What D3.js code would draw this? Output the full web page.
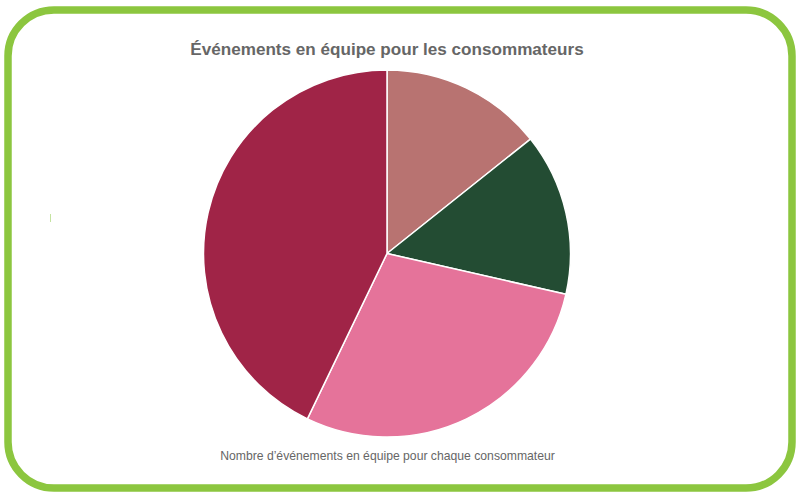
<!DOCTYPE html>
<html><head><meta charset="utf-8">
<script src="https://cdn.jsdelivr.net/npm/d3@7/dist/d3.min.js"></script>
<style>html,body{margin:0;padding:0;background:#fff}</style>
</head><body><svg id="c" width="800" height="500"></svg>
<script>
const categories = ["Consommateur A","Consommateur B","Consommateur C","Consommateur D"];
const values = [1,1,2,3];
const colors = ["#b87371","#234c33","#e5739a","#a02447"];
const title = "Événements en équipe pour les consommateurs";
const caption = "Nombre d’événements en équipe pour chaque consommateur";

const svg = d3.select("#c");
svg.append("rect").attr("x",8).attr("y",10).attr("width",784).attr("height",478)
  .attr("rx",46).attr("ry",46).attr("fill","#fff").attr("stroke","#8cc63f").attr("stroke-width",7.5);

svg.append("line").attr("x1",50.5).attr("x2",50.5).attr("y1",214).attr("y2",222)
  .attr("stroke","#c4e3a0").attr("stroke-width",1);

const cx=387, cy=253.5, r=183.5;
const pie = d3.pie().sort(null).value(d=>d);
const arc = d3.arc().innerRadius(0).outerRadius(r);
const colorScale = d3.scaleOrdinal().domain(categories).range(colors);
svg.append("g").attr("transform",`translate(${cx},${cy})`)
  .selectAll("path").data(pie(values)).join("path")
  .attr("d",arc).attr("fill",(d,i)=>colorScale(categories[i]))
  .attr("stroke","#fff").attr("stroke-width",1.5).attr("stroke-linejoin","round");

svg.append("text").attr("x",387).attr("y",55).attr("text-anchor","middle")
  .attr("font-family","Liberation Sans, Arial, sans-serif").attr("font-weight","bold")
  .attr("font-size",17.1).attr("fill","#666").text(title);
svg.append("text").attr("x",387.5).attr("y",460).attr("text-anchor","middle")
  .attr("font-family","Liberation Sans, Arial, sans-serif")
  .attr("font-size",12.2).attr("fill","#666").text(caption);
</script></body></html>
